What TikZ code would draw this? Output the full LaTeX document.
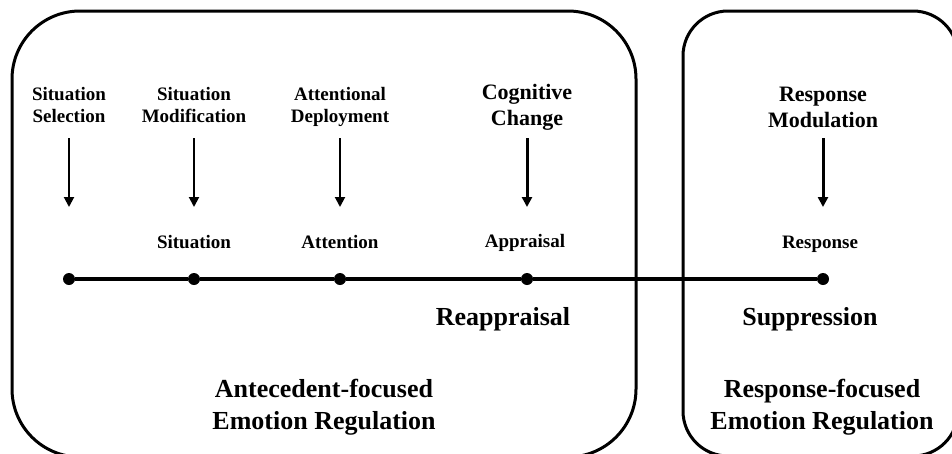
\documentclass[tikz,border=0pt]{standalone}
\usepackage{fontspec}
\setmainfont{Liberation Serif}
\usetikzlibrary{arrows.meta}
\begin{document}
\begin{tikzpicture}[x=1pt,y=-1pt,
  frame/.style={draw=black, line width=3pt},
  lbl/.style={font=\bfseries\fontsize{19}{22}\selectfont, align=center, inner sep=0pt},
  midlbl/.style={font=\bfseries\fontsize{22}{26}\selectfont, align=center, inner sep=0pt},
  biglbl/.style={font=\bfseries\fontsize{26}{32}\selectfont, align=center, inner sep=0pt},
  dot/.style={circle, fill=black, minimum size=12pt, inner sep=0pt},
  thinarr/.style={-{Triangle[length=10pt,width=10pt]}, line width=2pt},
  thickarr/.style={-{Triangle[length=10pt,width=10pt]}, line width=3pt},
  timeline/.style={line width=4pt}]
\useasboundingbox (0,0) rectangle (952,453);

% frames (bottom and right edges run past the picture's border)
\begin{scope}
\clip (0,0) rectangle (952,453);
\draw[frame, rounded corners=68pt] (12,11) rectangle (636,457);
\draw[frame, rounded corners=45pt] (683,11) rectangle (958,456);
\end{scope}

% top labels
\node[lbl] (sel) at (69,104.5) {Situation\\Selection};
\node[lbl] (mod) at (194,104.5) {Situation\\Modification};
\node[lbl] (att) at (340,106.5) {Attentional\\Deployment};
\node[midlbl] (cog) at (527,107) {Cognitive\\Change};
\node[midlbl] (rmod) at (823,107) {Response\\Modulation};

% arrow end points
\coordinate (a1t) at (69,138);  \coordinate (a1b) at (69,207);
\coordinate (a2t) at (194,138); \coordinate (a2b) at (194,207);
\coordinate (a3t) at (340,138); \coordinate (a3b) at (340,207);
\coordinate (a4t) at (527,138); \coordinate (a4b) at (527,207);
\coordinate (a5t) at (823,138); \coordinate (a5b) at (823,207);
\draw[thinarr] (a1t) -- (a1b);
\draw[thinarr] (a2t) -- (a2b);
\draw[thinarr] (a3t) -- (a3b);
\draw[thickarr] (a4t) -- (a4b);
\draw[thickarr] (a5t) -- (a5b);

% small labels
\node[lbl] (sit) at (194,242) {Situation};
\node[lbl] (atn) at (340,242) {Attention};
\node[lbl] (apr) at (525,242.5) {Appraisal};
\node[lbl] (rsp) at (820,244) {Response};

% timeline
\node[dot] (d1) at (69,279) {};
\node[dot] (d2) at (194,279) {};
\node[dot] (d3) at (340,279) {};
\node[dot] (d4) at (527,279) {};
\node[dot] (d5) at (823,279) {};
\draw[timeline] (d1) -- (d2) -- (d3) -- (d4) -- (d5);

% strategy labels
\node[biglbl] (reap) at (503,319) {Reappraisal};
\node[biglbl] (supp) at (810,319) {Suppression};

% bottom labels
\node[biglbl] (ant) at (324,407) {Antecedent-focused\\Emotion Regulation};
\node[biglbl] (resf) at (822,407) {Response-focused\\Emotion Regulation};
\end{tikzpicture}
\end{document}
